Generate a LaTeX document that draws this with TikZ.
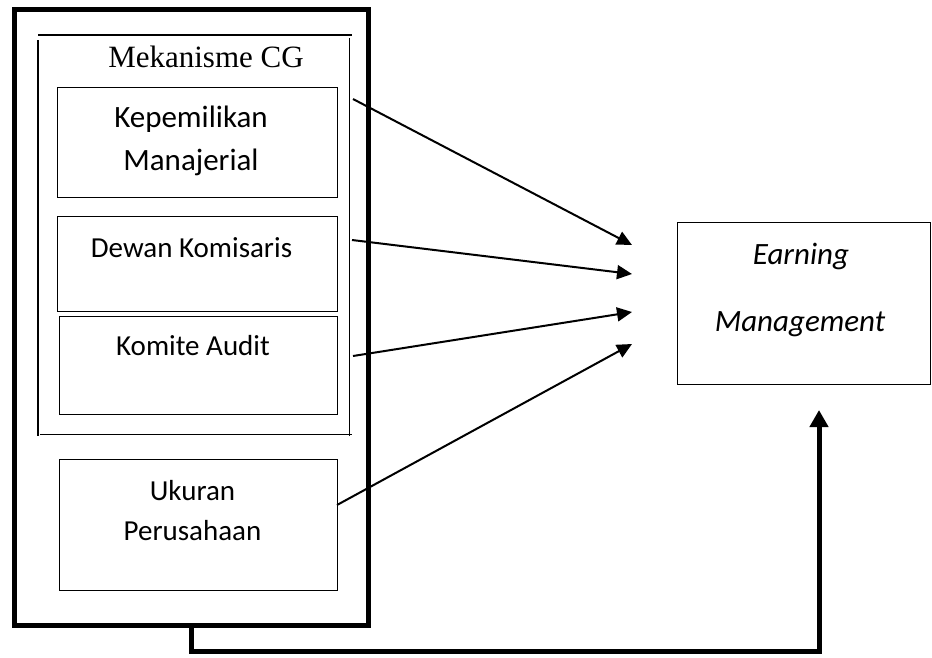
\documentclass[tikz,border=0pt]{standalone}
\usepackage{fontspec}
\setmainfont{Carlito}
\newfontfamily\seriffont{Liberation Serif}
\usetikzlibrary{arrows.meta}
\begin{document}
\begin{tikzpicture}[x=1pt,y=-1pt,
  box/.style={draw, line width=1pt, inner sep=0pt},
  frameline/.style={line width=1.3pt},
  thinarrow/.style={line width=2pt, -{Triangle[length=15pt,width=14pt]}},
  thickarrow/.style={line width=5pt, -{Triangle[length=17pt,width=18pt]}},
  lbl/.style={inner sep=0pt, align=center},
  big/.style={font=\fontsize{31}{43}\selectfont},
  mid/.style={font=\fontsize{29}{40}\selectfont}]
\useasboundingbox (0,0) rectangle (932,657);
% outer thick box
\node[draw, line width=5pt, inner sep=0pt, minimum width=354pt, minimum height=616pt] (outer) at (191.5,317.5) {};
% CG frame
\draw[frameline] (38,35) -- (352,35);
\draw[frameline] (38,40) -- (38,436);
\draw[frameline] (349.3,38) -- (349.3,436);
\draw[frameline] (40,434.3) -- (352,434.3);
\node[lbl, font=\seriffont\fontsize{31}{36}\selectfont] (cg) at (206,57) {Mekanisme CG};
% inner boxes
\node[box, minimum width=280pt, minimum height=110pt] (km) at (197,142) {};
\node[box, minimum width=280pt, minimum height=95pt] (dk) at (197,263.5) {};
\node[box, minimum width=278pt, minimum height=98pt] (ka) at (198,365) {};
\node[box, minimum width=278pt, minimum height=131pt] (uk) at (198,524.5) {};
\node[lbl, big] (kmt) at (191,141) {Kepemilikan\\Manajerial};
\node[lbl, mid] (dkt) at (191.5,248) {Dewan Komisaris};
\node[lbl, mid] (kat) at (193,346) {Komite Audit};
\node[lbl, mid] (ukt) at (192.5,511) {Ukuran\\Perusahaan};
% earning management box
\node[box, minimum width=253.5pt, minimum height=162pt] (em) at (803.75,303) {};
\node[lbl, big, font=\fontsize{31}{43}\selectfont\itshape] (emt1) at (801,256) {Earning};
\node[lbl, big, font=\fontsize{31}{43}\selectfont\itshape] (emt2) at (800,324) {Management};
% arrows
\coordinate (s1) at (353,99);
\coordinate (s2) at (352,240);
\coordinate (s3) at (353,356);
\coordinate (s4) at (337,505);
\coordinate (t1) at (632,245);
\coordinate (t2) at (632,274);
\coordinate (t3) at (632,312);
\coordinate (t4) at (632,344);
\draw[thinarrow] (s1) -- (t1);
\draw[thinarrow] (s2) -- (t2);
\draw[thinarrow] (s3) -- (t3);
\draw[thinarrow] (s4) -- (t4);
% bottom connector
\coordinate (low) at (819,651);
\coordinate (tip) at (819,410);
\draw[thickarrow] (outer.south) |- (low) -- (tip);
\end{tikzpicture}
\end{document}
